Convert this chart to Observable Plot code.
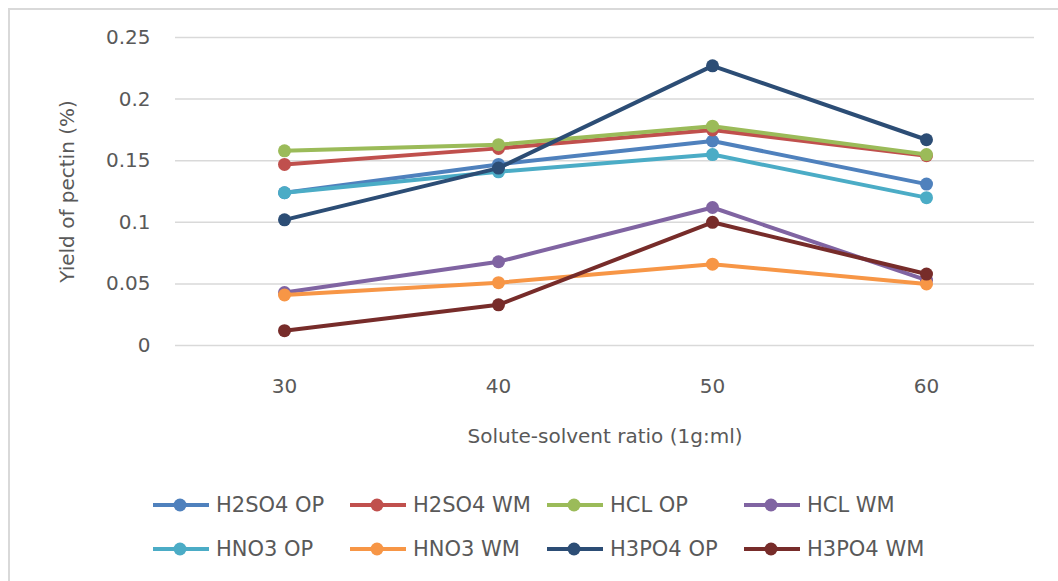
<!DOCTYPE html>
<html>
<head>
<meta charset="utf-8">
<script src="https://cdn.jsdelivr.net/npm/d3@7"></script>
<script src="https://cdn.jsdelivr.net/npm/@observablehq/plot@0.6"></script>
<style>
  body { margin: 0; background: #fff; }
  #wrap { position: relative; width: 1058px; height: 581px; overflow: hidden; font-family: "DejaVu Sans", sans-serif; color: #595959; background: #fff; }
  #frame { position: absolute; left: 8px; top: 8px; width: 1200px; height: 700px; border-top: 2px solid #d9d9d9; border-left: 2px solid #d9d9d9; }
  #chart { position: absolute; left: 0; top: 0; }
  .item { position: absolute; display: flex; align-items: center; height: 26px; font-size: 21px; white-space: nowrap; }
  .item svg { margin-right: 6px; }
</style>
</head>
<body>
<div id="wrap">
  <div id="frame"></div>
  <div id="chart"></div>
  <div id="legend"></div>
</div>
<script>
// ---- data ----
const ratios = ["30", "40", "50", "60"];
const seriesNames = ["H2SO4 OP", "H2SO4 WM", "HCL OP", "HCL WM", "HNO3 OP", "HNO3 WM", "H3PO4 OP", "H3PO4 WM"];
const seriesColors = ["#4F81BD", "#C0504D", "#9BBB59", "#8064A2", "#4BACC6", "#F79646", "#2C4D75", "#772C2A"];
const h2so4OP = [0.124, 0.147, 0.166, 0.131];
const h2so4WM = [0.147, 0.160, 0.175, 0.154];
const hclOP   = [0.158, 0.163, 0.178, 0.155];
const hclWM   = [0.043, 0.068, 0.112, 0.053];
const hno3OP  = [0.124, 0.141, 0.155, 0.120];
const hno3WM  = [0.041, 0.051, 0.066, 0.050];
const h3po4OP = [0.102, 0.144, 0.227, 0.167];
const h3po4WM = [0.012, 0.033, 0.100, 0.058];
const yTicks = [0, 0.05, 0.1, 0.15, 0.2, 0.25];
const yTickLabels = ["0", "0.05", "0.1", "0.15", "0.2", "0.25"];
const xTitle = "Solute-solvent ratio (1g:ml)";
const yTitle = "Yield of pectin (%)";

const seriesValues = [h2so4OP, h2so4WM, hclOP, hclWM, hno3OP, hno3WM, h3po4OP, h3po4WM];
const rows = seriesNames.map((name, s) =>
  ratios.map((r, i) => ({series: name, ratio: r, value: seriesValues[s][i]}))
);

const marks = [
  Plot.gridY(yTicks, {stroke: "#d9d9d9", strokeOpacity: 1, strokeWidth: 1.5}),
  Plot.axisY(yTicks, {
    tickSize: 0, tickPadding: 25, fontSize: 20,
    tickFormat: d => yTickLabels[yTicks.indexOf(d)],
    label: yTitle, labelAnchor: "center", labelOffset: 116, labelArrow: "none"
  }),
  Plot.axisX({
    tickSize: 0, tickPadding: 33, fontSize: 20,
    label: xTitle, labelAnchor: "center", labelOffset: 97, labelArrow: "none"
  })
];
rows.forEach((data, s) => {
  marks.push(Plot.line(data, {x: "ratio", y: "value", stroke: seriesColors[s], strokeWidth: 4, strokeLinejoin: "round", strokeLinecap: "round"}));
  marks.push(Plot.dot(data, {x: "ratio", y: "value", fill: seriesColors[s], r: 6.5}));
});

const chart = Plot.plot({
  width: 1058,
  height: 460,
  marginLeft: 175,
  marginRight: 24,
  marginTop: 37,
  marginBottom: 115,
  style: {fontFamily: "DejaVu Sans", color: "#595959", background: "transparent", overflow: "visible"},
  x: {type: "point", domain: ratios, padding: 0.5},
  y: {domain: [0, 0.25]},
  marks
});
document.getElementById("chart").appendChild(chart);

// ---- legend ----
const legend = document.getElementById("legend");
seriesNames.forEach((name, i) => {
  const item = document.createElement("div");
  item.className = "item";
  item.style.left = (152 + (i % 4) * 197) + "px";
  item.style.top = (505 - 13 + Math.floor(i / 4) * 44) + "px";
  const ns = "http://www.w3.org/2000/svg";
  const sw = document.createElementNS(ns, "svg");
  sw.setAttribute("width", 58);
  sw.setAttribute("height", 16);
  const ln = document.createElementNS(ns, "line");
  ln.setAttribute("x1", 1); ln.setAttribute("x2", 57);
  ln.setAttribute("y1", 8); ln.setAttribute("y2", 8);
  ln.setAttribute("stroke", seriesColors[i]); ln.setAttribute("stroke-width", 4);
  const c = document.createElementNS(ns, "circle");
  c.setAttribute("cx", 28); c.setAttribute("cy", 8); c.setAttribute("r", 6.5);
  c.setAttribute("fill", seriesColors[i]);
  sw.appendChild(ln); sw.appendChild(c);
  const t = document.createElement("span");
  t.textContent = name;
  item.appendChild(sw); item.appendChild(t);
  legend.appendChild(item);
});
</script>
</body>
</html>
